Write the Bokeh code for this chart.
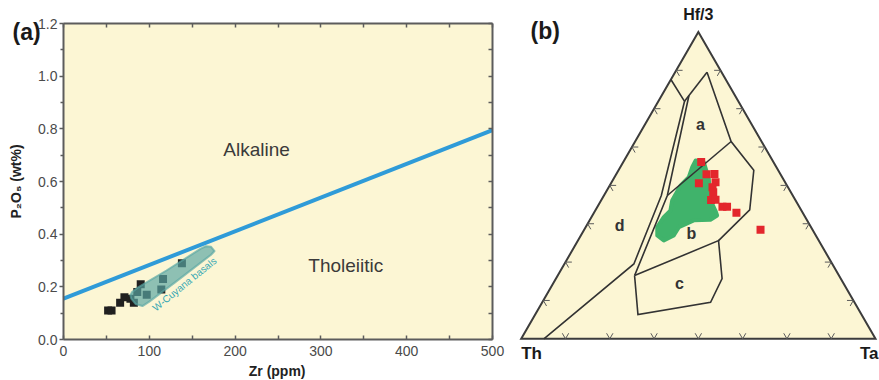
import math
from bokeh.plotting import figure
from bokeh.models import Range1d, LinearAxis, FixedTicker, Label, PrintfTickFormatter
from bokeh.layouts import row
from bokeh.embed import file_html
from bokeh.resources import INLINE

# ---------------- panel (a) data ----------------
zr_samples = [52, 56, 66, 71, 78, 82, 86, 90, 97, 114, 116, 138]
p2o5_samples = [0.11, 0.11, 0.14, 0.16, 0.155, 0.14, 0.18, 0.21, 0.17, 0.19, 0.23, 0.29]
zr_divide = [0, 500]
p2o5_divide = [0.155, 0.795]
cuyana_zr = [78, 80, 86, 120, 160, 166, 172, 176, 172, 130, 100, 92, 84, 79]
cuyana_p2o5 = [0.168, 0.180, 0.196, 0.262, 0.345, 0.354, 0.352, 0.336, 0.322, 0.217, 0.144, 0.127, 0.135, 0.155]
x_ticks = [0, 100, 200, 300, 400, 500]
x_minor = [50, 150, 250, 350, 450]
y_ticks = [0.0, 0.2, 0.4, 0.6, 0.8, 1.0, 1.2]
y_minor = [0.1, 0.3, 0.5, 0.7, 0.9, 1.1]

# ---------------- panel (b) data (Th, Ta, Hf/3 in %) ----------------
red_th = [20.4, 20.9, 18.6, 24.5, 19.6, 21.3, 21.9, 23.8, 22.5, 21.7, 20.4, 18.7, 14.7]
red_ta = [22.0, 25.5, 27.7, 24.8, 29.3, 29.3, 30.3, 31.0, 32.2, 35.3, 36.6, 40.2, 49.8]
red_hf = [57.6, 53.6, 53.8, 50.7, 51.0, 49.4, 47.8, 45.2, 45.3, 43.0, 43.0, 41.1, 35.5]

green_th = [21.7, 19.7, 21.0, 24.0, 24.3, 24.6, 27.2, 32.0, 37.3, 40.1, 43.7, 44.8, 43.4, 39.9, 37.0, 34.9, 30.1, 26.4, 23.7]
green_ta = [20.2, 22.8, 26.9, 30.9, 33.9, 35.2, 34.0, 29.4, 26.3, 26.2, 24.2, 21.6, 20.2, 20.4, 21.2, 20.1, 20.0, 21.0, 20.3]
green_hf = [58.1, 57.6, 52.1, 45.1, 41.8, 40.2, 38.8, 38.6, 36.4, 33.7, 32.0, 33.7, 36.4, 39.6, 41.8, 45.1, 49.9, 52.7, 56.0]

# field boundary nodes (Th, Ta, Hf/3)
P1 = (15.5, 0.0, 84.5)
P2 = (15.2, 7.4, 77.4)
L1B = (37.1, 16.2, 46.7)
P3 = (56.0, 19.6, 24.4)
P4 = (93.6, 6.4, 0.0)
A1 = (4.1, 9.0, 86.9)
A2 = (8.6, 27.1, 64.3)
A3 = (35.4, 17.9, 46.7)
L2T = (13.0, 7.7, 79.3)
B1 = (6.9, 38.2, 54.9)
B2 = (14.5, 43.5, 42.0)
C1 = (57.7, 21.7, 20.6)
C2 = (28.3, 39.7, 32.0)
C3 = (33.5, 46.9, 19.6)
C4 = (40.6, 47.5, 11.9)
C5 = (63.1, 29.0, 7.9)
field_lines = [
    [P1, P2, L1B, P3, P4],
    [P2, A1],
    [A1, A2, B1, B2, C2],
    [A2, A3],
    [L2T, A3, C1],
    [C1, C2, C3, C4, C5, C1],
]
field_labels = ["a", "b", "c", "d"]
field_label_pos = [(14.5, 15.7, 69.8), (34.8, 30.8, 34.4), (46.4, 35.7, 17.9), (53.8, 9.3, 36.9)]
tern_ticks = [0.125, 0.25, 0.375, 0.5, 0.625, 0.75, 0.875]

# ---------------- styles ----------------
CREAM = "#fcf6d4"
FRAME = "#5c5c5c"
SANS = "Liberation Sans"
H = 380

# ---------------- panel (a) ----------------
# whole canvas is the frame; axes are pinned at the data edges of the diagram
W1 = 510
XPX = 429.0 / 500.0      # pixels per ppm
YPX = 316.0 / 1.2        # pixels per wt%
LEFT, TOP = 63, 23       # diagram corner offset inside the canvas (px)
p1 = figure(width=W1, height=H,
            x_range=Range1d(-LEFT / XPX, (W1 - LEFT) / XPX),
            y_range=Range1d(-(H - TOP - 316) / YPX, 1.2 + TOP / YPX),
            output_backend="svg", toolbar_location=None, title=None, min_border=0,
            background_fill_color="white", border_fill_color="white",
            outline_line_color=None, frame_align=False)
p1.grid.visible = False

p1.quad(left=[x_ticks[0]], right=[x_ticks[-1]], bottom=[y_ticks[0]], top=[y_ticks[-1]],
        fill_color=CREAM, line_color=None)

xa = p1.xaxis[0]
xa.fixed_location = y_ticks[0]
xa.ticker = FixedTicker(ticks=x_ticks, minor_ticks=x_minor)
xa.major_tick_in = 4
xa.major_tick_out = 0
xa.minor_tick_in = 4
xa.minor_tick_out = 0
xa.major_label_standoff = 6

ya = p1.yaxis[0]
ya.fixed_location = x_ticks[0]
ya.ticker = FixedTicker(ticks=y_ticks, minor_ticks=y_minor)
ya.formatter = PrintfTickFormatter(format="%.1f")
ya.major_tick_in = 0
ya.major_tick_out = 4
ya.minor_tick_in = 0
ya.minor_tick_out = 3
ya.major_label_standoff = 2

top_ax = LinearAxis(ticker=FixedTicker(ticks=x_ticks, minor_ticks=x_minor), fixed_location=y_ticks[-1])
right_ax = LinearAxis(ticker=FixedTicker(ticks=y_ticks, minor_ticks=y_minor), fixed_location=x_ticks[-1])
for ax in (top_ax, right_ax):
    ax.major_tick_in = 4
    ax.major_tick_out = 0
    ax.minor_tick_in = 4
    ax.minor_tick_out = 0
    ax.major_label_text_font_size = "0px"
    ax.major_label_text_color = None
    ax.major_label_standoff = 0
    ax.axis_label_standoff = 0
p1.add_layout(top_ax, "above")
p1.add_layout(right_ax, "right")

xa.bounds = (x_ticks[0], x_ticks[-1])
top_ax.bounds = (x_ticks[0], x_ticks[-1])
ya.bounds = (y_ticks[0], y_ticks[-1])
right_ax.bounds = (y_ticks[0], y_ticks[-1])

for ax in (xa, ya, top_ax, right_ax):
    ax.axis_line_color = FRAME
    ax.axis_line_width = 2
    ax.major_tick_line_color = FRAME
    ax.minor_tick_line_color = FRAME
    ax.major_tick_line_width = 1.5
    ax.minor_tick_line_width = 1.5
for ax in (xa, ya):
    ax.major_label_text_font = SANS
    ax.major_label_text_font_size = "14px"
    ax.major_label_text_color = "#4a4a4a"

p1.rect(zr_samples, p2o5_samples, width=8, height=8, width_units="screen", height_units="screen",
        fill_color="#202020", line_color=None)
p1.patch(cuyana_zr, cuyana_p2o5, fill_color="#5aa6a3", fill_alpha=0.68,
         line_color="#5aa6a3", line_alpha=0.68, line_width=2, line_join="round")
p1.line(zr_divide, p2o5_divide, line_color="#2f9bd8", line_width=4)

p1.add_layout(Label(x=141, y=0.21, text="W-Cuyana basals", angle=39, angle_units="deg",
                    text_align="center", text_baseline="middle", text_font=SANS,
                    text_font_size="10px", text_color="#33a6b3"))
p1.add_layout(Label(x=225, y=0.72, text="Alkaline", text_align="center", text_baseline="middle",
                    text_font=SANS, text_font_size="19px", text_color="#3a3a3a"))
p1.add_layout(Label(x=329, y=0.28, text="Tholeiitic", text_align="center", text_baseline="middle",
                    text_font=SANS, text_font_size="19px", text_color="#3a3a3a"))
# axis titles and panel letter (pixel offsets from the diagram corner)
p1.add_layout(Label(x=249, y=-31 / YPX, text="Zr (ppm)", text_align="center", text_baseline="middle",
                    text_font=SANS, text_font_size="14px", text_font_style="bold", text_color="#222222"))
p1.add_layout(Label(x=-48 / XPX, y=0.6, text="P\u2082O\u2085 (wt%)", angle=90, angle_units="deg",
                    text_align="center", text_baseline="middle",
                    text_font=SANS, text_font_size="14px", text_font_style="bold", text_color="#222222"))
p1.add_layout(Label(x=-51 / XPX, y=1.2 - 8 / YPX, text="(a)", text_align="left", text_baseline="middle",
                    text_font=SANS, text_font_size="23px", text_font_style="bold", text_color="#1a1a1a"))

# ---------------- panel (b) ----------------
S3 = math.sqrt(3) / 2


def tern(th, ta, hf):
    s = th + ta + hf
    return (ta + hf / 2.0) / s, (hf * S3) / s


W2 = 879 - W1
PX = 354.3
OX, BASE = 10.7, 338.3   # Th vertex position inside this canvas (px)
p2 = figure(width=W2, height=H,
            x_range=Range1d(-OX / PX, (W2 - OX) / PX),
            y_range=Range1d(-(H - BASE) / PX, BASE / PX),
            output_backend="svg", toolbar_location=None, min_border=0, title=None,
            x_axis_location=None, y_axis_location=None, frame_align=False,
            outline_line_color=None, background_fill_color="white", border_fill_color="white")
p2.grid.visible = False

vx = [tern(100, 0, 0)[0], tern(0, 100, 0)[0], tern(0, 0, 100)[0]]
vy = [tern(100, 0, 0)[1], tern(0, 100, 0)[1], tern(0, 0, 100)[1]]
p2.patch(vx, vy, fill_color=CREAM, line_color="#3c3c3c", line_width=2, line_join="miter")

# chevron ticks along the three edges
TL = 0.018
tick_xs, tick_ys = [], []
edges = [
    (lambda f: (f, 0.0), (0.5, S3), (-0.5, S3)),
    (lambda f: (0.5 * f, S3 * f), (1.0, 0.0), (0.5, -S3)),
    (lambda f: (1 - 0.5 * f, S3 * f), (-1.0, 0.0), (-0.5, -S3)),
]
for pos, d1, d2 in edges:
    for f in tern_ticks:
        x0, y0 = pos(f)
        tick_xs.append([x0 + TL * d1[0], x0, x0 + TL * d2[0]])
        tick_ys.append([y0 + TL * d1[1], y0, y0 + TL * d2[1]])
p2.multi_line(tick_xs, tick_ys, line_color="#5a5a5a", line_width=1)

# green field
gx, gy = zip(*[tern(a, b, c) for a, b, c in zip(green_th, green_ta, green_hf)])
p2.patch(list(gx), list(gy), fill_color="#40b36b", line_color="#40b36b", line_width=4, line_join="round")

# field boundaries
fxs, fys = [], []
for seg in field_lines:
    pts = [tern(*q) for q in seg]
    fxs.append([q[0] for q in pts])
    fys.append([q[1] for q in pts])
p2.multi_line(fxs, fys, line_color="#333333", line_width=1.6, line_join="miter")

# red samples
rx, ry = zip(*[tern(a, b, c) for a, b, c in zip(red_th, red_ta, red_hf)])
p2.rect(list(rx), list(ry), width=8, height=8, width_units="screen", height_units="screen",
        fill_color="#e3262c", line_color=None)

for lab, comp in zip(field_labels, field_label_pos):
    lx, ly = tern(*comp)
    p2.add_layout(Label(x=lx, y=ly, text=lab, text_align="center", text_baseline="middle",
                        text_font=SANS, text_font_size="16px", text_font_style="bold",
                        text_color="#333333"))

hx, hy = tern(0, 0, 100)
thx, thy = tern(100, 0, 0)
tax, tay = tern(0, 100, 0)
p2.add_layout(Label(x=hx, y=hy + 17 / PX, text="Hf/3", text_align="center", text_baseline="middle",
                    text_font=SANS, text_font_size="16px", text_font_style="bold", text_color="#1a1a1a"))
p2.add_layout(Label(x=thx, y=thy - 5 / PX, text="Th", text_align="left", text_baseline="top",
                    text_font=SANS, text_font_size="17px", text_font_style="bold", text_color="#1a1a1a"))
p2.add_layout(Label(x=tax + 3 / PX, y=tay - 5 / PX, text="Ta", text_align="right", text_baseline="top",
                    text_font=SANS, text_font_size="17px", text_font_style="bold", text_color="#1a1a1a"))
p2.add_layout(Label(x=thx + 9.3 / PX, y=thy + 308.3 / PX, text="(b)", text_align="left", text_baseline="middle",
                    text_font=SANS, text_font_size="23px", text_font_style="bold", text_color="#1a1a1a"))

layout = row(p1, p2, spacing=0)
open("out.html", "w").write(file_html(layout, INLINE))
